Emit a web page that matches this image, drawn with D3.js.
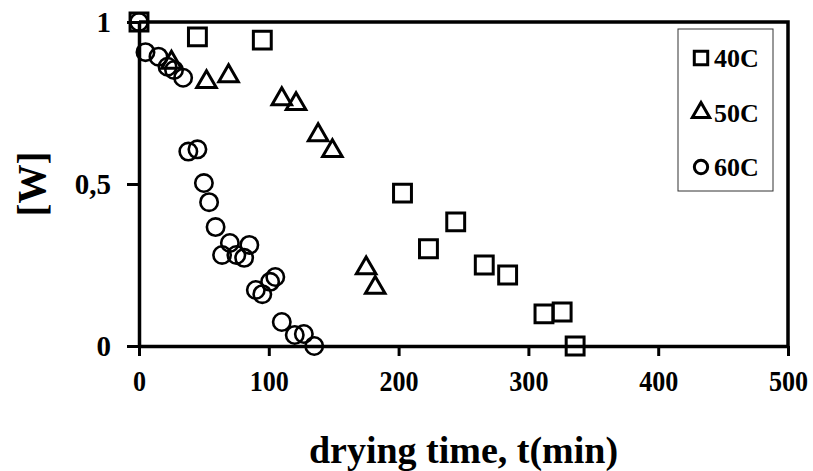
<!DOCTYPE html>
<html>
<head>
<script src="https://d3js.org/d3.v7.min.js"></script>
<style>
  body { margin: 0; background: #fff; }
  text { font-family: "Liberation Serif", "Times New Roman", serif; font-weight: bold; fill: #000; }
</style>
</head>
<body>
<svg id="chart" width="813" height="471"></svg>
<script>
// 40C
const time40 = [0, 45, 95, 203, 223, 244, 266, 284, 312, 326, 336];
const w40 = [1.0, 0.954, 0.944, 0.472, 0.30, 0.383, 0.25, 0.219, 0.099, 0.105, 0.0];
// 50C
const time50 = [25, 52, 69, 110, 121, 138, 149, 175, 182];
const w50 = [0.875, 0.815, 0.833, 0.762, 0.747, 0.651, 0.602, 0.24, 0.18];
// 60C
const time60 = [0, 5, 15, 22, 27, 34, 38, 45, 50, 54, 59, 64, 70, 75, 81, 85, 90, 95, 101, 105, 110, 120, 127, 135];
const w60 = [1.0, 0.907, 0.893, 0.862, 0.852, 0.828, 0.60, 0.607, 0.503, 0.444, 0.367, 0.281, 0.318, 0.281, 0.272, 0.312, 0.173, 0.16, 0.198, 0.213, 0.074, 0.034, 0.037, 0.0];

const xTicks = [0, 100, 200, 300, 400, 500];
const yTicks = [0, 0.5, 1];
const yTickLabels = ["0", "0,5", "1"];
const seriesNames = ["40C", "50C", "60C"];

const svg = d3.select("#chart");
const plotLeft = 139, plotRight = 788, plotTop = 22, plotBottom = 346;

const x = d3.scaleLinear().domain([0, 500]).range([plotLeft, plotRight]);
const y = d3.scaleLinear().domain([0, 1]).range([plotBottom, plotTop]);

// frame top/right
svg.append("path")
    .attr("d", `M${plotLeft},${plotTop}H${plotRight}V${plotBottom}`)
    .attr("fill", "none").attr("stroke", "#000").attr("stroke-width", 3.5);

const xAxis = svg.append("g")
    .attr("transform", `translate(0,${plotBottom})`)
    .call(d3.axisBottom(x).tickValues(xTicks).tickSize(10).tickPadding(14).tickSizeOuter(0));
const yAxis = svg.append("g")
    .attr("transform", `translate(${plotLeft},0)`)
    .call(d3.axisLeft(y).tickValues(yTicks).tickSize(12).tickPadding(16).tickSizeOuter(0)
        .tickFormat((d, i) => yTickLabels[i]));

[xAxis, yAxis].forEach(a => {
    a.select(".domain").attr("stroke-width", 3.5);
    a.selectAll(".tick line").attr("stroke-width", 3);
    a.selectAll(".tick text").style("font-size", "29px");
});
xAxis.selectAll(".tick text").attr("transform", "scale(0.9,1)");

svg.append("text")
    .attr("x", (plotLeft + plotRight) / 2)
    .attr("y", 463)
    .attr("text-anchor", "middle")
    .style("font-size", "38px")
    .text("drying time, t(min)");

svg.append("text")
    .attr("transform", `translate(45,${(plotTop + plotBottom) / 2}) rotate(-90)`)
    .attr("text-anchor", "middle")
    .style("font-size", "39px")
    .text("[W]");

const marks = svg.append("g")
    .attr("fill", "none").attr("stroke", "#000").attr("stroke-width", 3);

const tri = d3.symbol().type(d3.symbolTriangle).size(165);
marks.selectAll(".tri")
    .data(d3.zip(time50, w50))
    .join("path")
    .attr("class", "tri")
    .attr("transform", d => `translate(${x(d[0])},${y(d[1])})`)
    .attr("d", tri);

const sq = d3.symbol().type(d3.symbolSquare).size(320);
marks.selectAll(".sq")
    .data(d3.zip(time40, w40))
    .join("path")
    .attr("class", "sq")
    .attr("transform", d => `translate(${x(d[0])},${y(d[1])})`)
    .attr("d", sq);

marks.selectAll(".circ")
    .data(d3.zip(time60, w60))
    .join("circle")
    .attr("class", "circ")
    .attr("cx", d => x(d[0]))
    .attr("cy", d => y(d[1]))
    .attr("r", 8.7)
    .attr("stroke-width", 2.6);

// legend
const legend = svg.append("g");
legend.append("rect")
    .attr("x", 678).attr("y", 29).attr("width", 95).attr("height", 162)
    .attr("fill", "#fff").attr("stroke", "#333").attr("stroke-width", 1);

const legendY = d3.scalePoint().domain(seriesNames).range([58, 167]);
const legendSymbols = [d3.symbolSquare, d3.symbolTriangle, d3.symbolCircle];
const legendSizes = [180, 130, 140];
seriesNames.forEach((name, i) => {
    legend.append("path")
        .attr("transform", `translate(701,${legendY(name)})`)
        .attr("d", d3.symbol().type(legendSymbols[i]).size(legendSizes[i]))
        .attr("fill", "none").attr("stroke", "#000").attr("stroke-width", 3);
    legend.append("text")
        .attr("x", 714).attr("y", legendY(name))
        .attr("dy", "0.35em")
        .style("font-size", "26px")
        .text(name);
});
</script>
</body>
</html>
